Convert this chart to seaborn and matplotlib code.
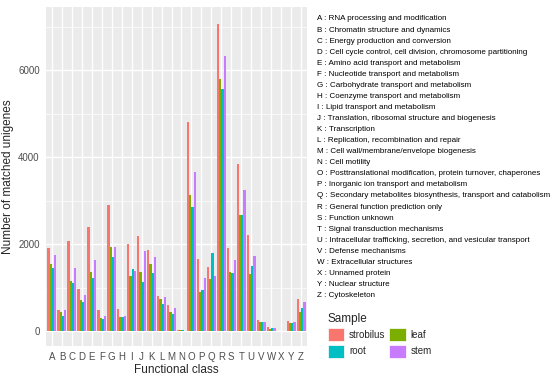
import pandas as pd
import matplotlib
matplotlib.use("Agg")
import matplotlib.pyplot as plt
import seaborn as sns
from matplotlib.patches import Patch
from matplotlib.ticker import MultipleLocator

# COG functional classes
classes = list("ABCDEFGHIJKLMNOPQRSTUVWXYZ")
descriptions = [
    "RNA processing and modification",
    "Chromatin structure and dynamics",
    "Energy production and conversion",
    "Cell cycle control, cell division, chromosome partitioning",
    "Amino acid transport and metabolism",
    "Nucleotide transport and metabolism",
    "Carbohydrate transport and metabolism",
    "Coenzyme transport and metabolism",
    "Lipid transport and metabolism",
    "Translation, ribosomal structure and biogenesis",
    "Transcription",
    "Replication, recombination and repair",
    "Cell wall/membrane/envelope biogenesis",
    "Cell motility",
    "Posttranslational modification, protein turnover, chaperones",
    "Inorganic ion transport and metabolism",
    "Secondary metabolites biosynthesis, transport and catabolism",
    "General function prediction only",
    "Function unknown",
    "Signal transduction mechanisms",
    "Intracellular trafficking, secretion, and vesicular transport",
    "Defense mechanisms",
    "Extracellular structures",
    "Unnamed protein",
    "Nuclear structure",
    "Cytoskeleton",
]

samples = ["strobilus", "leaf", "root", "stem"]
colors = ["#F8766D", "#7CAE00", "#00BFC4", "#C77CFF"]

strobilus = [1908, 488, 2060, 969, 2396, 488, 2899, 511, 2000, 2182, 1869, 809, 595,
             22, 4807, 1648, 1465, 7065, 1908, 3838, 2213, 252, 92, 5, 221, 725]
leaf = [1534, 427, 1145, 710, 1358, 298, 1923, 313, 1267, 1358, 1534, 725, 443,
        15, 3136, 893, 1190, 5791, 1366, 2671, 1312, 198, 53, 3, 175, 435]
root = [1457, 336, 1099, 671, 1221, 275, 1709, 313, 1419, 1122, 1343, 626, 382,
        25, 2854, 946, 1801, 5562, 1335, 2671, 1503, 206, 61, 3, 191, 519]
stem = [1755, 481, 1450, 832, 1633, 343, 1923, 343, 1373, 1846, 1701, 778, 534,
        10, 3647, 1221, 1274, 6333, 1640, 3250, 1717, 206, 61, 3, 206, 664]

df = pd.DataFrame({"strobilus": strobilus, "leaf": leaf, "root": root, "stem": stem},
                  index=classes)
df = df.reset_index().rename(columns={"index": "Functional class"})
df = df.melt(id_vars="Functional class", var_name="Sample", value_name="count")

sns.set_style("darkgrid", {"axes.facecolor": "#EBEBEB"})
plt.rcParams["font.family"] = ["Liberation Sans", "DejaVu Sans"]

fig = plt.figure(figsize=(5.5, 3.76), dpi=100)
ax = fig.add_axes([46 / 550, 30 / 376, 261 / 550, 339 / 376])

sns.barplot(data=df, x="Functional class", y="count", hue="Sample",
            hue_order=samples, palette=colors, width=0.9, saturation=1,
            gap=0, linewidth=0, legend=False, ax=ax)

ax.set_xlim(-0.6, 25.6)
ax.set_ylim(-345, 7450)
ax.yaxis.set_major_locator(MultipleLocator(2000))
ax.yaxis.set_minor_locator(MultipleLocator(1000))
ax.grid(which="major", color="white", lw=1.0)
ax.grid(which="minor", axis="y", color="white", lw=0.5)
ax.tick_params(which="major", length=3, width=0.8, color="#333333",
               labelsize=7, labelcolor="#4D4D4D", pad=1.5)
ax.tick_params(which="minor", length=0)
for s in ax.spines.values():
    s.set_visible(False)
ax.set_xlabel("Functional class", fontsize=8.5, labelpad=1)
ax.set_ylabel("Number of matched unigenes", fontsize=8.5, labelpad=3)

# class description list
for i, (c, d) in enumerate(zip(classes, descriptions)):
    y = 19 + i * 11.06
    fig.text(317 / 550, 1 - y / 376, f"{c} : {d}", fontsize=5.75,
             va="center", ha="left", color="black")

# legend filled row by row: strobilus, leaf / root, stem
order = [0, 2, 1, 3]
handles = [Patch(facecolor=colors[i], edgecolor="white", lw=0.5) for i in order]
labels = [samples[i] for i in order]
fig.legend(handles, labels, loc="upper left",
           bbox_to_anchor=(319 / 550, 1 - 304 / 376), ncol=2, title="Sample",
           frameon=False, fontsize=7, title_fontsize=8.5,
           handlelength=1.7, handleheight=1.7, columnspacing=0.4,
           handletextpad=0.5, labelspacing=0.35, alignment="left")

fig.savefig("out.png", dpi=100)
